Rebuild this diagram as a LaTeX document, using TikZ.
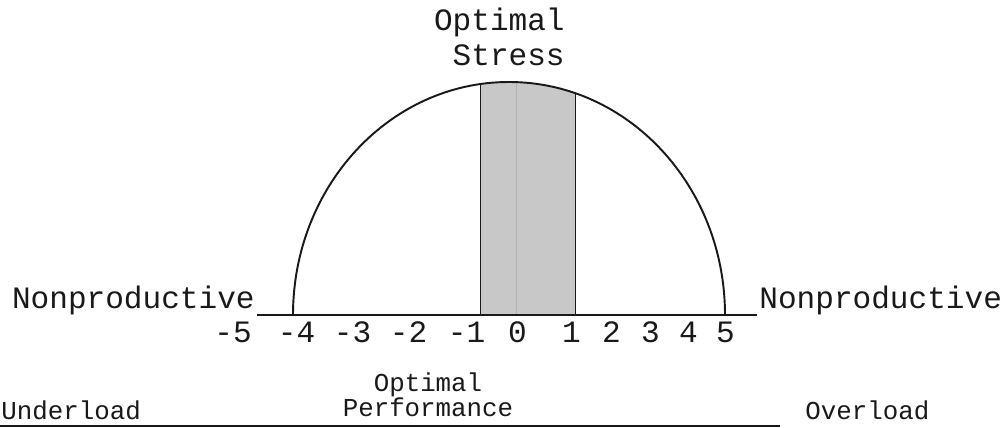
\documentclass[tikz,border=0pt]{standalone}
\usepackage{fontspec}
\setmonofont{Liberation Mono}
\usepackage{tikz}
\usetikzlibrary{positioning}
\definecolor{bandGray}{RGB}{200,200,200}
\definecolor{inkBlack}{RGB}{25,25,25}

\begin{document}
\begin{tikzpicture}[
  x=0.02cm, y=0.02cm,
  biglabel/.style={font=\ttfamily\fontsize{17.7}{19.9}\selectfont, inner sep=0pt, text=inkBlack},
  smalllabel/.style={font=\ttfamily\fontsize{14.7}{14.2}\selectfont, inner sep=0pt, text=inkBlack},
  ticklabel/.style={biglabel, anchor=base},
  curve/.style={line width=1.1pt, inkBlack},
  axis/.style={line width=0.8pt, inkBlack}
]
\useasboundingbox (0,0) rectangle (1006,428);

% Shaded band under the curve
\begin{scope}
  \clip (293,113) arc[start angle=180, end angle=0, x radius=216, y radius=233] -- cycle;
  \fill[bandGray] (480,113) rectangle (575,350);
  \draw[gray!60, line width=0.3pt] (516,113) -- (516,350);
\end{scope}
\draw[line width=0.5pt, inkBlack] (480,113) -- (480,344);
\draw[line width=0.5pt, inkBlack] (575,113) -- (575,335);

% Curve and axis
\coordinate (axisL) at (257,113);
\coordinate (axisR) at (757,113);
\draw[curve] (293,113) arc[start angle=180, end angle=0, x radius=216, y radius=233];
\draw[axis] (axisL) -- (axisR);

% Nodes
\node (stress) [biglabel, align=right, anchor=north east] at (565,420) {Optimal\\Stress};
\node (nonL) [biglabel, anchor=base east] at (255,119) {Nonproductive};
\node (nonR) [biglabel, anchor=base west] at (759,119) {Nonproductive};
\foreach \v/\px in {-5/233,-4/296.5,-3/352.5,-2/408.5,-1/466.5,0/517.5,1/571.5,2/611.5,3/650.5,4/688.5,5/725.5}
  \node (tick\v) [ticklabel] at (\px,85) {\v};

\node (perf) [smalllabel, align=center, anchor=north] at (428,56) {Optimal\\Performance};
\node (under) [smalllabel, anchor=base west] at (1,8) {Underload};
\node (over) [smalllabel, anchor=base west] at (805,8) {Overload};

% Bottom line
\coordinate (baseL) at (0,2);
\coordinate (baseR) at (780,2);
\draw[axis] (baseL) -- (baseR);

\end{tikzpicture}
\end{document}
